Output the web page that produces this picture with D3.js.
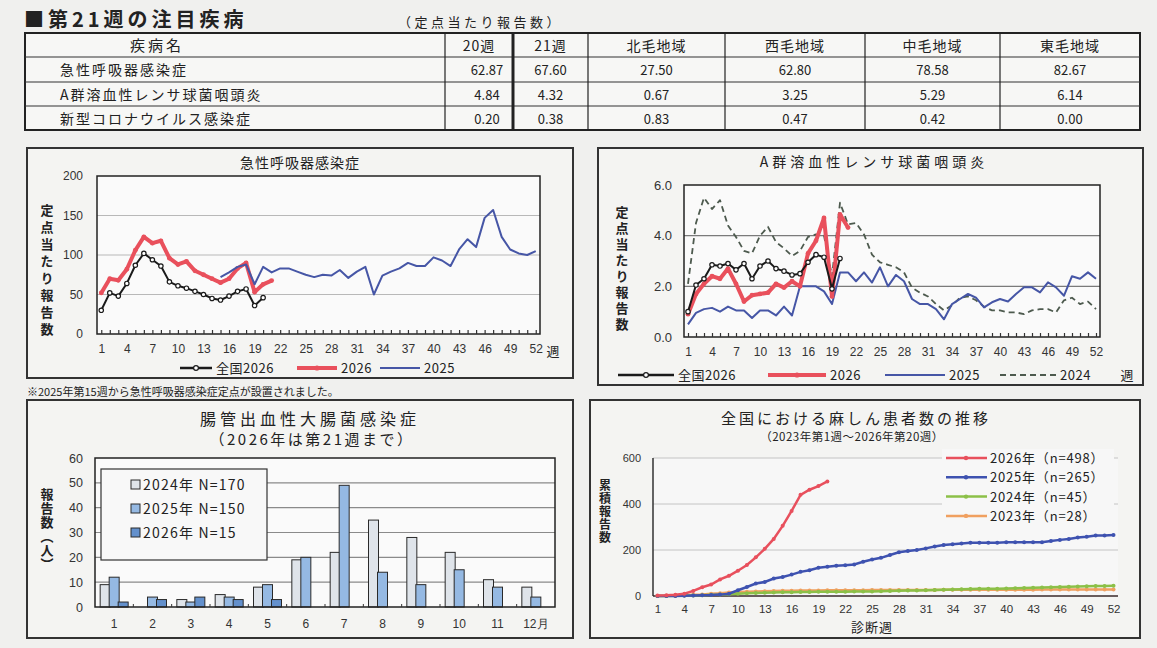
<!DOCTYPE html>
<html lang="ja">
<head>
<meta charset="UTF-8">
<title>第21週の注目疾病</title>
<script src="https://d3js.org/d3.v7.min.js"></script>
<style>
  body { margin: 0; background: #f0f0ee; }
  svg { display: block; font-family: "Noto Sans CJK JP", "Noto Sans", sans-serif; }
  text { fill: #222; }
  .tick text { fill: #333; }
</style>
</head>
<body>
<svg width="1157" height="648"></svg>
<script>
// ---- table ----
const tableHead = ["疾病名", "20週", "21週", "北毛地域", "西毛地域", "中毛地域", "東毛地域"];
const diseases = ["急性呼吸器感染症", "A群溶血性レンサ球菌咽頭炎", "新型コロナウイルス感染症"];
const tableValues = [
  ["62.87", "67.60", "27.50", "62.80", "78.58", "82.67"],
  ["4.84", "4.32", "0.67", "3.25", "5.29", "6.14"],
  ["0.20", "0.38", "0.83", "0.47", "0.42", "0.00"]
];

// ---- 急性呼吸器感染症 ----
const weeks = d3.range(1, 53);
const weekTicks = d3.range(1, 53, 3);
const ariNation2026 = [30, 52, 48, 64, 87, 102, 94, 86, 66, 61, 58, 54, 50, 45, 43, 48, 54, 57, 36, 46];
const ariPref2026 = [52, 70, 68, 82, 106, 123, 115, 118, 96, 88, 92, 80, 75, 70, 65, 70, 83, 90, 53, 62.87, 67.60];
const ariPref2025Start = 15;
const ariPref2025 = [72, 78, 85, 88, 63, 85, 78, 83, 83, 79, 75, 72, 75, 74, 81, 71, 79, 85, 50, 74,
  79, 83, 90, 86, 86, 97, 93, 86, 107, 120, 110, 147, 157, 123, 107, 102, 100, 105];

// ---- A群溶血性レンサ球菌咽頭炎 ----
const gasNation2026 = [1.0, 2.05, 2.3, 2.85, 2.8, 2.9, 2.65, 2.9, 2.3, 2.8, 3.0, 2.7, 2.6, 2.45, 2.5, 2.95, 3.25, 3.15, 1.9, 3.1];
const gasPref2026 = [0.9, 1.7, 2.1, 2.4, 2.3, 2.7, 2.1, 1.4, 1.65, 1.7, 1.75, 2.1, 1.95, 2.2, 2.0, 3.3, 3.8, 4.7, 1.6, 4.84, 4.32];
const gasPref2025 = [0.5, 0.95, 1.1, 1.15, 1.0, 1.2, 1.05, 1.05, 0.75, 1.05, 1.05, 0.85, 1.2, 0.85,
  2.0, 2.0, 2.0, 1.8, 1.3, 2.55, 2.55, 2.2, 2.55, 2.15, 2.75, 2.0, 2.45, 2.2,
  1.5, 1.3, 1.3, 1.1, 0.7, 1.3, 1.5, 1.7, 1.55, 1.17, 1.37, 1.5,
  1.4, 1.7, 1.96, 1.96, 1.76, 2.16, 1.96, 1.63, 2.4, 2.3, 2.55, 2.3];
const gasPref2024 = [2.1, 4.5, 5.5, 5.05, 5.4, 4.4, 3.95, 3.4, 3.3, 4.0, 4.35, 3.75, 3.5, 3.2,
  3.4, 3.95, 4.05, 4.0, 2.4, 5.3, 4.45, 4.5, 4.05, 3.25, 2.95,
  2.85, 2.75, 2.55, 1.95, 1.75, 1.6, 1.3, 1.05, 1.25, 1.55, 1.6, 1.45, 1.2, 1.05, 1.05,
  0.97, 0.97, 0.9, 1.05, 1.1, 1.1, 0.97, 1.45, 1.55, 1.3, 1.4, 1.1];

// ---- 腸管出血性大腸菌感染症 ----
const months = ["1", "2", "3", "4", "5", "6", "7", "8", "9", "10", "11", "12月"];
const ehecSeries = ["2024年 N=170", "2025年 N=150", "2026年 N=15"];
const ehec2024 = [9, 0, 3, 5, 8, 19, 22, 35, 28, 22, 11, 8];
const ehec2025 = [12, 4, 2, 4, 9, 20, 49, 14, 9, 15, 8, 4];
const ehec2026 = [2, 3, 4, 3, 3, 0, 0, 0, 0, 0, 0, 0];

// ---- 麻しん 累積 ----
const measlesLabels = ["2026年（n=498）", "2025年（n=265）", "2024年（n=45）", "2023年（n=28）"];
const measles2026 = [2, 3, 5, 10, 22, 38, 50, 72, 88, 110, 135, 168, 205, 248, 305, 370, 440, 462, 478, 498];
const measles2025 = [0, 0, 0, 1, 2, 3, 4, 6, 10, 25, 39, 54, 61, 76, 83, 93, 105, 112, 123, 127,
  131, 134, 137, 149, 159, 166, 178, 190, 196, 200, 207, 215, 222, 225, 228, 231, 231, 232, 232, 234,
  234, 234, 234, 234, 239, 244, 248, 254, 258, 263, 263, 265];
const measles2024 = [0, 0, 1, 2, 2, 3, 5, 6, 8, 10, 12, 13, 14, 15, 16, 16, 17, 17, 18, 18,
  19, 19, 20, 20, 20, 21, 22, 23, 24, 24, 25, 26, 27, 28, 29, 30, 31, 32, 32, 33,
  34, 35, 36, 37, 38, 39, 40, 41, 42, 43, 44, 45];
const measles2023 = [0, 1, 2, 3, 5, 7, 10, 12, 15, 17, 19, 20, 21, 22, 23, 23, 24, 24, 24, 25,
  25, 25, 25, 25, 26, 26, 26, 26, 26, 26, 26, 26, 27, 27, 27, 27, 27, 27, 27, 27,
  27, 27, 27, 28, 28, 28, 28, 28, 28, 28, 28, 28];

const svg = d3.select("svg");

// ===== header + table =====
svg.append("text").attr("x", 24).attr("y", 27)
  .attr("font-size", 20).attr("font-weight", "bold").attr("letter-spacing", 4)
  .text("■第21週の注目疾病");
svg.append("text").attr("x", 398).attr("y", 27)
  .attr("font-size", 13).attr("letter-spacing", 3.5)
  .text("（定点当たり報告数）");

const colX = [25, 445, 513, 588, 725, 865, 1000, 1140];
const rowY = [33, 57, 82, 106, 130];
const tbl = svg.append("g");
tbl.append("rect").attr("x", colX[0]).attr("y", rowY[0])
  .attr("width", colX[7] - colX[0]).attr("height", rowY[4] - rowY[0])
  .attr("fill", "#f7f7f5").attr("stroke", "#222").attr("stroke-width", 2);
rowY.slice(1, 4).forEach(y => tbl.append("line")
  .attr("x1", colX[0]).attr("x2", colX[7]).attr("y1", y).attr("y2", y)
  .attr("stroke", "#333").attr("stroke-width", 1.2));
colX.slice(1, 7).forEach((x, i) => tbl.append("line")
  .attr("x1", x).attr("x2", x).attr("y1", rowY[0]).attr("y2", rowY[4])
  .attr("stroke", "#222").attr("stroke-width", i === 1 ? 3 : 1.2));

tableHead.forEach((h, i) => {
  tbl.append("text")
    .attr("x", i === 0 ? 157 : (colX[i] + colX[i + 1]) / 2)
    .attr("y", rowY[0] + 18).attr("text-anchor", "middle")
    .attr("font-size", i === 0 ? 15 : 14).attr("letter-spacing", i === 0 ? 3 : 1).text(h);
});
diseases.forEach((d, r) => {
  tbl.append("text").attr("x", 60).attr("y", rowY[r + 1] + 18)
    .attr("font-size", 14).attr("letter-spacing", 2).text(d);
  tableValues[r].forEach((v, i) => {
    tbl.append("text")
      .attr("x", (colX[i + 1] + colX[i + 2]) / 2 + (i === 0 ? 8 : 0))
      .attr("y", rowY[r + 1] + 18).attr("text-anchor", "middle")
      .attr("font-size", 13).text(v);
  });
});

// ===== helpers =====
function frame(x, y, w, h) {
  svg.append("rect").attr("x", x).attr("y", y).attr("width", w).attr("height", h)
    .attr("fill", "#f4f4f2").attr("stroke", "#333").attr("stroke-width", 2);
}

function verticalTitle(x, y, txt, size, spacing) {
  svg.append("text").attr("x", x).attr("y", y)
    .attr("font-size", size).attr("font-weight", "bold")
    .attr("letter-spacing", spacing)
    .style("writing-mode", "vertical-rl")
    .attr("text-anchor", "middle").text(txt);
}

function weekChart(cfg) {
  const g = svg.append("g");
  const x = d3.scalePoint().domain(weeks).range([cfg.left, cfg.right]).padding(0.5);
  const y = d3.scaleLinear().domain(cfg.yDomain).range([cfg.bottom, cfg.top]);

  g.append("rect").attr("x", cfg.left).attr("y", cfg.top)
    .attr("width", cfg.right - cfg.left).attr("height", cfg.bottom - cfg.top)
    .attr("fill", "#fafafa");

  g.selectAll(".grid").data(cfg.yTicks.slice(1, -1)).join("line")
    .attr("x1", cfg.left).attr("x2", cfg.right)
    .attr("y1", d => y(d)).attr("y2", d => y(d))
    .attr("stroke", cfg.gridColor).attr("stroke-width", 1.2);

  g.append("rect").attr("x", cfg.left).attr("y", cfg.top)
    .attr("width", cfg.right - cfg.left).attr("height", cfg.bottom - cfg.top)
    .attr("fill", "none").attr("stroke", "#222").attr("stroke-width", 1.5);

  // small week ticks
  g.append("g").attr("transform", `translate(0,${cfg.bottom})`)
    .call(d3.axisBottom(x).tickValues(weeks).tickSize(-4).tickFormat(""))
    .call(a => a.select(".domain").remove())
    .selectAll("line").attr("stroke", "#333").attr("stroke-width", 1.2);

  g.append("g").attr("transform", `translate(0,${cfg.bottom})`)
    .call(d3.axisBottom(x).tickValues(weekTicks).tickSize(0).tickPadding(10))
    .call(a => a.select(".domain").remove())
    .selectAll("text").attr("font-size", 12).attr("font-family", "inherit");

  g.append("g").attr("transform", `translate(${cfg.left},0)`)
    .call(d3.axisLeft(y).tickValues(cfg.yTicks).tickSize(0).tickPadding(cfg.yPad).tickFormat(cfg.yFormat))
    .call(a => a.select(".domain").remove())
    .selectAll("text").attr("font-size", cfg.ySize).attr("font-family", "inherit");

  const line = d3.line().x(d => x(d.w)).y(d => y(d.v));
  cfg.series.forEach(s => {
    const pts = s.values.map((v, i) => ({ w: i + (s.start || 1), v }));
    g.append("path").datum(pts).attr("d", line)
      .attr("fill", "none").attr("stroke", s.color).attr("stroke-width", s.width)
      .attr("stroke-dasharray", s.dash || null).attr("stroke-linejoin", "round");
    if (s.marker === "circle") {
      g.selectAll(null).data(pts).join("circle")
        .attr("cx", d => x(d.w)).attr("cy", d => y(d.v)).attr("r", 2.2)
        .attr("fill", "#fff").attr("stroke", s.color).attr("stroke-width", 1.2);
    } else if (s.marker === "dot") {
      g.selectAll(null).data(pts).join("circle")
        .attr("cx", d => x(d.w)).attr("cy", d => y(d.v)).attr("r", 2.4)
        .attr("fill", s.color);
    }
  });
  return { x, y };
}

function lineLegend(items, y) {
  items.forEach(it => {
    svg.append("line").attr("x1", it.x).attr("x2", it.x + it.len).attr("y1", y).attr("y2", y)
      .attr("stroke", it.color).attr("stroke-width", it.width).attr("stroke-dasharray", it.dash || null);
    if (it.marker === "circle") {
      svg.append("circle").attr("cx", it.x + it.len / 2).attr("cy", y).attr("r", 2.4)
        .attr("fill", "#fff").attr("stroke", it.color).attr("stroke-width", 1.2);
    } else if (it.marker === "dot") {
      svg.append("circle").attr("cx", it.x + it.len / 2).attr("cy", y).attr("r", 2.6)
        .attr("fill", it.color);
    }
    svg.append("text").attr("x", it.x + it.len + 4).attr("y", y + 5)
      .attr("font-size", 13).attr("letter-spacing", 0.5).text(it.label);
  });
}

const black = "#1a1a1a", red = "#e9505c", blue = "#4656a6", dashCol = "#4d5a4e";

// ===== chart 1 =====
frame(27, 148, 546, 230);
svg.append("text").attr("x", 300).attr("y", 168).attr("text-anchor", "middle")
  .attr("font-size", 14).attr("letter-spacing", 1).text("急性呼吸器感染症");
verticalTitle(47, 272, "定点当たり報告数", 13, 4);
weekChart({
  left: 97, right: 540, top: 176, bottom: 334,
  yDomain: [0, 200], yTicks: [0, 50, 100, 150, 200], yPad: 14, ySize: 12, yFormat: d3.format("d"),
  gridColor: "#b8b8b8",
  series: [
    { values: ariPref2026, color: red, width: 4, marker: "dot" },
    { values: ariPref2025, start: ariPref2025Start, color: blue, width: 2 },
    { values: ariNation2026, color: black, width: 2, marker: "circle" }
  ]
});
svg.append("text").attr("x", 553).attr("y", 356).attr("text-anchor", "middle")
  .attr("font-size", 13).text("週");
lineLegend([
  { x: 180, len: 32, color: black, width: 2.5, marker: "circle", label: "全国2026" },
  { x: 297, len: 40, color: red, width: 4, marker: "dot", label: "2026" },
  { x: 380, len: 40, color: blue, width: 2, label: "2025" }
], 368);
svg.append("text").attr("x", 27).attr("y", 396).attr("font-size", 11)
  .text("※2025年第15週から急性呼吸器感染症定点が設置されました。");

// ===== chart 2 =====
frame(598, 148, 545, 237);
svg.append("text").attr("x", 874).attr("y", 167).attr("text-anchor", "middle")
  .attr("font-size", 14).attr("letter-spacing", 4).text("A群溶血性レンサ球菌咽頭炎");
verticalTitle(622, 270, "定点当たり報告数", 13, 3);
weekChart({
  left: 684, right: 1100, top: 185, bottom: 337,
  yDomain: [0, 6], yTicks: [0, 2, 4, 6], yPad: 12, ySize: 13, yFormat: d3.format(".1f"),
  gridColor: "#7a7a7a",
  series: [
    { values: gasPref2024, color: dashCol, width: 1.8, dash: "6,4" },
    { values: gasPref2025, color: blue, width: 2 },
    { values: gasPref2026, color: red, width: 4, marker: "dot" },
    { values: gasNation2026, color: black, width: 2, marker: "circle" }
  ]
});
lineLegend([
  { x: 618, len: 56, color: black, width: 2.5, marker: "circle", label: "全国2026" },
  { x: 768, len: 58, color: red, width: 4, marker: "dot", label: "2026" },
  { x: 885, len: 60, color: blue, width: 2, label: "2025" },
  { x: 1000, len: 56, color: dashCol, width: 1.8, dash: "6,4", label: "2024" }
], 375);
svg.append("text").attr("x", 1127).attr("y", 380).attr("text-anchor", "middle")
  .attr("font-size", 13).text("週");

// ===== chart 3 =====
frame(27, 400, 546, 238);
svg.append("text").attr("x", 310).attr("y", 425).attr("text-anchor", "middle")
  .attr("font-size", 16).attr("letter-spacing", 4).text("腸管出血性大腸菌感染症");
svg.append("text").attr("x", 312).attr("y", 445).attr("text-anchor", "middle")
  .attr("font-size", 15).attr("letter-spacing", 2.5).text("（2026年は第21週まで）");
verticalTitle(47, 530, "報告数（人）", 13, 1);
{
  const left = 95, right = 555, top = 458, bottom = 607;
  const x = d3.scaleBand().domain(months).range([left, right]);
  const y = d3.scaleLinear().domain([0, 60]).range([bottom, top]);
  const g = svg.append("g");
  g.append("rect").attr("x", left).attr("y", top).attr("width", right - left)
    .attr("height", bottom - top).attr("fill", "#fafafa");
  g.selectAll(".grid").data([10, 20, 30, 40, 50]).join("line")
    .attr("x1", left).attr("x2", right).attr("y1", d => y(d)).attr("y2", d => y(d))
    .attr("stroke", "#8a8a8a").attr("stroke-width", 1.2);
  const fills = ["#dfe4ea", "#95b9e3", "#6390cc"];
  const offsets = [-14, -5, 4];
  [ehec2024, ehec2025, ehec2026].forEach((vals, s) => {
    g.selectAll(null).data(vals.map((v, i) => ({ m: months[i], v }))).join("rect")
      .filter(d => d.v > 0)
      .attr("x", d => x(d.m) + x.bandwidth() / 2 + offsets[s])
      .attr("y", d => y(d.v)).attr("width", 10).attr("height", d => bottom - y(d.v))
      .attr("fill", fills[s]).attr("stroke", "#2a2a2a").attr("stroke-width", 1);
  });
  g.append("rect").attr("x", left).attr("y", top).attr("width", right - left)
    .attr("height", bottom - top).attr("fill", "none").attr("stroke", "#222").attr("stroke-width", 1.5);
  g.append("g").attr("transform", `translate(0,${bottom})`)
    .call(d3.axisBottom(x).tickSize(0).tickPadding(12))
    .call(a => a.select(".domain").remove())
    .selectAll("text").attr("font-size", 12).attr("font-family", "inherit");
  g.selectAll(".mt").data(months.slice(1)).join("line")
    .attr("x1", d => x(d)).attr("x2", d => x(d)).attr("y1", bottom).attr("y2", bottom - 3)
    .attr("stroke", "#333");
  g.append("g").attr("transform", `translate(${left},0)`)
    .call(d3.axisLeft(y).tickValues([0, 10, 20, 30, 40, 50, 60]).tickSize(0).tickPadding(12))
    .call(a => a.select(".domain").remove())
    .selectAll("text").attr("font-size", 12.5).attr("font-family", "inherit");

  // legend
  g.append("rect").attr("x", 101).attr("y", 469).attr("width", 166).attr("height", 91)
    .attr("fill", "#f8f8f8").attr("stroke", "#333").attr("stroke-width", 1.2);
  ehecSeries.forEach((name, i) => {
    const ly = 485 + i * 24;
    g.append("rect").attr("x", 131).attr("y", ly - 5).attr("width", 9).attr("height", 9)
      .attr("fill", fills[i]).attr("stroke", "#2a2a2a");
    g.append("text").attr("x", 143).attr("y", ly + 5).attr("font-size", 14)
      .attr("letter-spacing", 1.2).text(name);
  });
}

// ===== chart 4 =====
frame(590, 400, 550, 238);
svg.append("text").attr("x", 856).attr("y", 424).attr("text-anchor", "middle")
  .attr("font-size", 15).attr("letter-spacing", 3).text("全国における麻しん患者数の推移");
svg.append("text").attr("x", 852).attr("y", 441).attr("text-anchor", "middle")
  .attr("font-size", 11.5).attr("letter-spacing", 0.5).text("（2023年第1週～2026年第20週）");
verticalTitle(605, 512, "累積報告数", 12, 1);
{
  const left = 653, right = 1118, top = 458, bottom = 596;
  const x = d3.scalePoint().domain(weeks).range([left, right]).padding(0.5);
  const y = d3.scaleLinear().domain([0, 600]).range([bottom, top]);
  const g = svg.append("g");
  g.append("rect").attr("x", left).attr("y", top).attr("width", right - left)
    .attr("height", bottom - top).attr("fill", "#f7f7f7");
  g.selectAll(".grid").data([200, 400, 600]).join("line")
    .attr("x1", left).attr("x2", right).attr("y1", d => y(d)).attr("y2", d => y(d))
    .attr("stroke", "#c4c4c4").attr("stroke-width", 1);
  g.append("line").attr("x1", left).attr("x2", left).attr("y1", top).attr("y2", bottom)
    .attr("stroke", "#333").attr("stroke-width", 1.5);
  g.append("line").attr("x1", left).attr("x2", right).attr("y1", bottom).attr("y2", bottom)
    .attr("stroke", "#3a2a2a").attr("stroke-width", 1.5);

  g.append("g").attr("transform", `translate(0,${bottom})`)
    .call(d3.axisBottom(x).tickValues(weekTicks).tickSize(0).tickPadding(9))
    .call(a => a.select(".domain").remove())
    .selectAll("text").attr("font-size", 11.5).attr("font-family", "inherit");
  g.append("g").attr("transform", `translate(${left},0)`)
    .call(d3.axisLeft(y).tickValues([0, 200, 400, 600]).tickSize(0).tickPadding(12))
    .call(a => a.select(".domain").remove())
    .selectAll("text").attr("font-size", 11).attr("font-family", "inherit");

  const cols = ["#e8505d", "#3e52b0", "#8cc048", "#f0a060"];
  const data = [measles2026, measles2025, measles2024, measles2023];
  const line = d3.line().x(d => x(d.w)).y(d => y(d.v));
  [3, 2, 1, 0].forEach(k => {
    const pts = data[k].map((v, i) => ({ w: i + 1, v }));
    g.append("path").datum(pts).attr("d", line).attr("fill", "none")
      .attr("stroke", cols[k]).attr("stroke-width", 2.5);
    g.selectAll(null).data(pts).join("circle")
      .attr("cx", d => x(d.w)).attr("cy", d => y(d.v)).attr("r", 2)
      .attr("fill", cols[k]);
  });

  svg.append("text").attr("x", 872).attr("y", 632).attr("text-anchor", "middle")
    .attr("font-size", 13).attr("letter-spacing", 1).text("診断週");

  // legend
  g.append("rect").attr("x", 942).attr("y", 449).attr("width", 172).attr("height", 76)
    .attr("fill", "#f7f7f7");
  measlesLabels.forEach((name, i) => {
    const ly = 458 + i * 19.3;
    g.append("line").attr("x1", 946).attr("x2", 987).attr("y1", ly).attr("y2", ly)
      .attr("stroke", cols[i]).attr("stroke-width", 2.5);
    g.append("circle").attr("cx", 966).attr("cy", ly).attr("r", 2.2).attr("fill", cols[i]);
    g.append("text").attr("x", 990).attr("y", ly + 5).attr("font-size", 13)
      .attr("letter-spacing", 0.8).text(name);
  });
}
</script>
</body>
</html>
